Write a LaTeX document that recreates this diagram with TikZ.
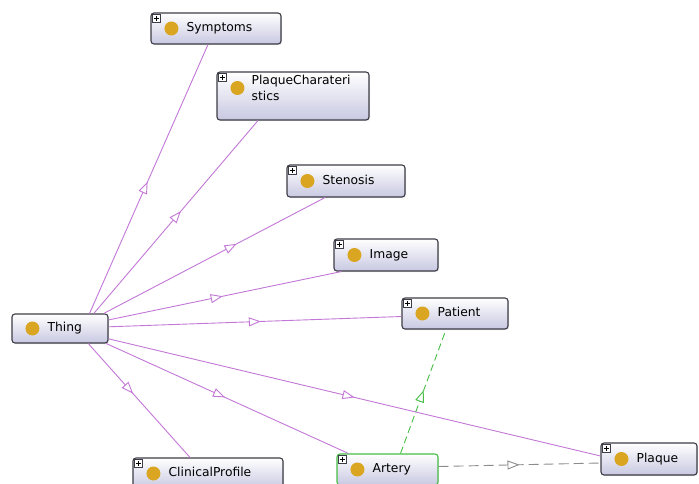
\documentclass[tikz,border=0pt]{standalone}
\usepackage{fontspec}
\setmainfont{DejaVu Sans}
\usetikzlibrary{arrows.meta,decorations.markings,shadows}

\definecolor{edgepurple}{RGB}{195,120,215}
\definecolor{dotcol}{RGB}{218,165,32}
\definecolor{boxborder}{RGB}{60,60,70}
\definecolor{boxbottom}{RGB}{200,200,226}
\definecolor{selgreen}{RGB}{70,190,70}
\definecolor{propgray}{RGB}{140,140,140}

\tikzset{
  classbox/.style={draw=boxborder, line width=1.1pt, rounded corners=3pt,
    top color=white, bottom color=boxbottom, inner sep=0pt,
    drop shadow={shadow xshift=1pt, shadow yshift=-1pt, opacity=0.2}},
  selected/.style={draw=selgreen},
  lbl/.style={inner sep=0pt, font=\fontsize{12.3}{16}\selectfont,
    text height=9pt, text depth=2.5pt, align=left},
  openhead/.style={postaction={decorate, decoration={markings,
    mark=at position #1 with {\arrow[line width=0.9pt]{Triangle[open, fill=white, length=12pt, width=9pt]}}}}},
  isa/.style={edgepurple, line width=0.9pt},
  greendash/.style={selgreen, line width=0.9pt, dash pattern=on 7pt off 4pt},
  graydash/.style={propgray, line width=0.9pt, dash pattern=on 10pt off 5pt},
}

% class box: style, name, centre x, centre y, width, height, label
\newcommand\owlclass[7]{%
  \node[classbox, #1, minimum width=#5pt, minimum height=#6pt] (#2) at (#3,#4) {};
  \node[lbl, anchor=west] (#2-t) at ([xshift=36pt]#2.west) {#7};
  \fill[dotcol] ([xshift=21pt]#2.west) circle (7pt);
}
% small expand icon in the upper left corner
\newcommand\plusicon[1]{%
  \draw[boxborder, line width=0.6pt, fill=white]
    ([shift={(2pt,-2pt)}]#1.north west) rectangle ++(8pt,-8pt);
  \draw[black, line width=0.8pt]
    ([shift={(3.8pt,-6pt)}]#1.north west) -- ++(4.4pt,0pt)
    ([shift={(6pt,-3.8pt)}]#1.north west) -- ++(0pt,-4.4pt);
}

\begin{document}
\begin{tikzpicture}[x=1pt,y=-1pt]
\fill[white] (0,0) rectangle (699,484);
\useasboundingbox (0,0) rectangle (699,484);

% nodes
\owlclass{}{thing}{60}{328.5}{96}{29}{Thing}
\owlclass{}{symptoms}{216}{28.5}{130}{31}{Symptoms}
\node[classbox, minimum width=152pt, minimum height=48pt] (plaquechar) at (293,96) {};
\node[lbl, anchor=west] (plaquechar-t) at ([xshift=35pt,yshift=-1.5pt]plaquechar.west) {PlaqueCharateri\\stics};
\fill[dotcol] ([xshift=21pt,yshift=8pt]plaquechar.west) circle (7pt);
\owlclass{}{stenosis}{346}{181}{118}{32}{Stenosis}
\owlclass{}{image}{386}{255}{104}{32}{Image}
\owlclass{}{patient}{455}{313.5}{106}{31}{Patient}
\owlclass{}{plaque}{649}{459}{96}{32}{Plaque}
\owlclass{}{clinical}{208}{473.5}{150}{31}{ClinicalProfile}
\owlclass{selected}{artery}{387.5}{469.5}{101}{31}{Artery}

\plusicon{symptoms}
\plusicon{plaquechar}
\plusicon{stenosis}
\plusicon{image}
\plusicon{patient}
\plusicon{plaque}
\plusicon{clinical}
\plusicon{artery}

% subclass links from Thing
\draw[isa, openhead=0.49] (thing.27) -- ([xshift=-8pt]symptoms.south);
\draw[isa, openhead=0.53] (thing.24) -- ([xshift=-35pt]plaquechar.south);
\draw[isa, openhead=0.6] (thing.19.5) -- ([xshift=-21pt]stenosis.south);
\draw[isa, openhead=0.49] (thing.10) -- ([xshift=8pt]image.south west);
\draw[isa, openhead=0.52] (thing.2) -- ([yshift=-3pt]patient.west);
\draw[isa, openhead=0.5] (thing.-12.3) -- ([yshift=3pt]plaque.west);
\draw[isa, openhead=0.49] (thing.-18.2) -- ([xshift=12pt]artery.north west);
\draw[isa, openhead=0.44] (thing.-28.2) -- ([xshift=-18pt]clinical.north);

% object property links
\draw[greendash, openhead=0.51] ([xshift=13pt]artery.north) -- ([xshift=-9pt]patient.south);
\draw[graydash, openhead=0.5] ([yshift=3pt]artery.east) -- ([yshift=-4pt]plaque.west);
\end{tikzpicture}
\end{document}
